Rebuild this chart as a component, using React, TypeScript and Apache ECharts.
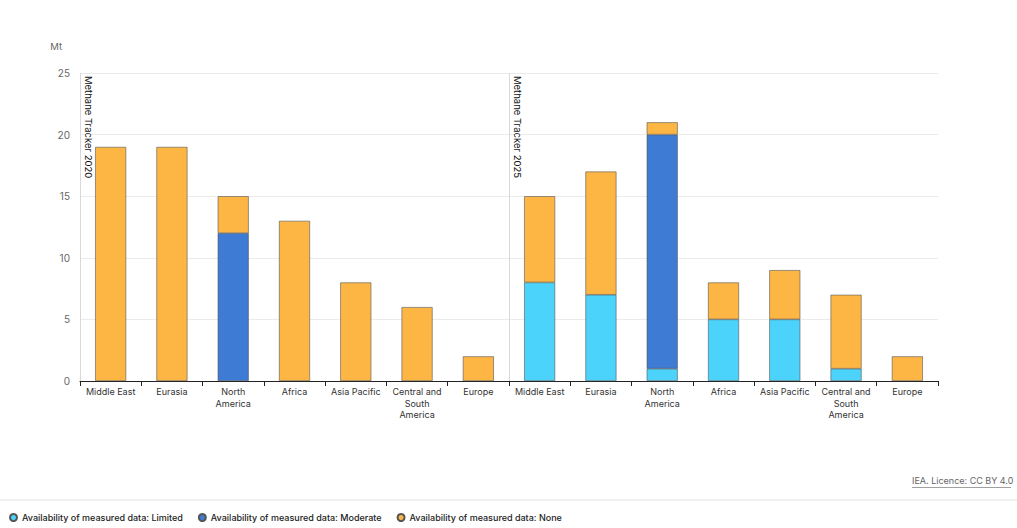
import React, { useEffect, useRef } from "react";
import * as echarts from "echarts";

const regions = ["Middle East", "Eurasia", "North America", "Africa", "Asia Pacific", "Central and South America", "Europe"];
const periods = ["Methane Tracker 2020", "Methane Tracker 2025"];
const categoryLabels = [
  "Middle East", "Eurasia", "North\nAmerica", "Africa", "Asia Pacific", "Central and\nSouth\nAmerica", "Europe",
  "Middle East", "Eurasia", "North\nAmerica", "Africa", "Asia Pacific", "Central and\nSouth\nAmerica", "Europe",
];
const limited = [0, 0, 0, 0, 0, 0, 0, 8, 7, 1, 5, 5, 1, 0];
const moderate = [0, 0, 12, 0, 0, 0, 0, 0, 0, 19, 0, 0, 0, 0];
const none = [19, 19, 3, 13, 8, 6, 2, 7, 10, 1, 3, 4, 6, 2];
const yTicks = [0, 5, 10, 15, 20, 25];
const seriesNames = [
  "Availability of measured data: Limited",
  "Availability of measured data: Moderate",
  "Availability of measured data: None",
];
const colors = ["#4cd3fb", "#3d7bd4", "#fdb644"];

export default function App() {
  const ref = useRef<HTMLDivElement>(null);
  useEffect(() => {
    if (!ref.current) return;
    document.body.style.margin = "0";
    document.body.style.overflow = "hidden";
    const chart = echarts.init(ref.current, null, { renderer: "svg" });
    const toData = (arr: number[]) => arr.map((v) => (v === 0 ? null : v));
    const font = "Inter, 'Noto Sans', sans-serif";
    const barSeries = [limited, moderate, none].map((arr, i) => ({
      name: seriesNames[i],
      type: "bar",
      stack: "total",
      barWidth: 31,
      data: toData(arr),
      itemStyle: { color: colors[i], borderColor: "#555", borderWidth: 0.6 },
    }));
    const nCat = categoryLabels.length;
    chart.setOption({
      animation: false,
      textStyle: { fontFamily: font },
      grid: { left: 80, right: 79, top: 73, bottom: 147 },
      legend: {
        left: 4,
        bottom: 1,
        icon: "circle",
        itemWidth: 7,
        itemHeight: 7,
        itemGap: 15,
        data: seriesNames,
        textStyle: { fontSize: 9, color: "#222", fontWeight: 500, fontFamily: font },
      },
      xAxis: [
        {
          type: "category",
          data: categoryLabels.map((_, i) => String(i)),
          axisLine: { lineStyle: { color: "#222", width: 1 } },
          axisTick: { show: true, length: 5, lineStyle: { color: "#222" } },
          axisLabel: {
            interval: 0,
            fontSize: 9,
            color: "#333",
            lineHeight: 11.5,
            margin: 5,
            formatter: (v: string) => categoryLabels[Number(v)],
          },
        },
        {
          type: "value",
          min: 0,
          max: nCat,
          show: false,
          splitLine: { show: false },
        },
      ],
      yAxis: {
        type: "value",
        min: yTicks[0],
        max: yTicks[yTicks.length - 1],
        interval: 5,
        name: "Mt",
        nameGap: 22,
        nameTextStyle: { fontSize: 9.5, color: "#666", align: "right", padding: [0, 18, 0, 0] },
        axisLine: { show: false },
        axisTick: { show: false },
        axisLabel: { fontSize: 10, color: "#666", margin: 10 },
        splitLine: { lineStyle: { color: "#ebebeb" } },
      },
      series: [
        ...barSeries,
        {
          type: "scatter",
          xAxisIndex: 1,
          data: [[0, 0]],
          symbolSize: 0,
          silent: true,
          markLine: {
            symbol: "none",
            silent: true,
            lineStyle: { color: "#d9d9d9", type: "solid", width: 1 },
            label: {
              show: true,
              position: "insideStartTop",
              fontSize: 9.5,
              color: "#111",
              distance: 3,
              formatter: (p: any) => p.name,
            },
            data: periods.map((p, i) => [
              { name: p, coord: [(i * nCat) / 2, 25] },
              { coord: [(i * nCat) / 2, 0] },
            ]),
          },
        },
      ],
      graphic: [
        {
          type: "line",
          shape: { x1: 0, y1: 500, x2: 1017, y2: 500 },
          style: { stroke: "#e3e3e3", lineWidth: 1 },
        },
        {
          type: "text",
          x: 912,
          y: 476,
          style: { text: "IEA. Licence: CC BY 4.0", fontSize: 9, fill: "#666", fontFamily: font },
        },
        {
          type: "line",
          shape: { x1: 912, y1: 487.5, x2: 1011, y2: 487.5 },
          style: { stroke: "#888", lineWidth: 0.8 },
        },
      ],
    });
    return () => chart.dispose();
  }, []);
  return <div ref={ref} style={{ width: 1017, height: 528 }} />;
}
